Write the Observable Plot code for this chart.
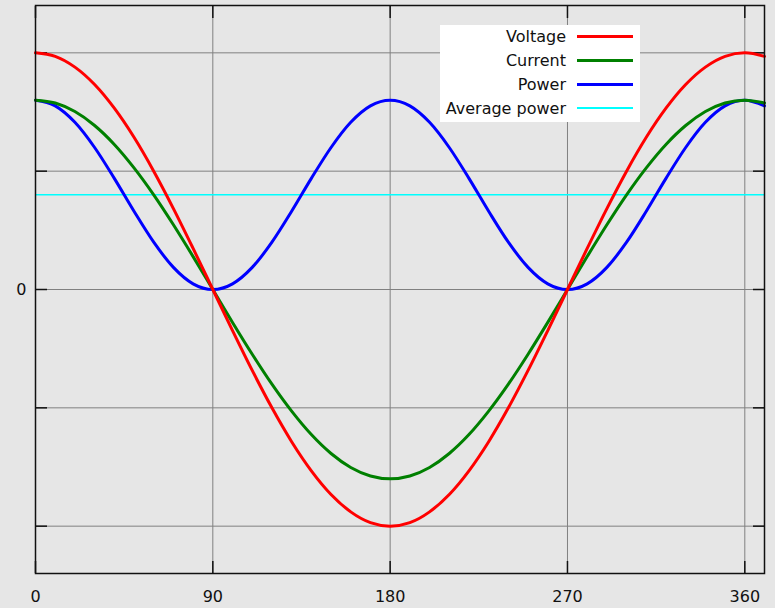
<!DOCTYPE html>
<html>
<head>
<meta charset="utf-8">
<script src="https://cdn.jsdelivr.net/npm/d3@7"></script>
<script src="https://cdn.jsdelivr.net/npm/@observablehq/plot@0.6"></script>
<style>
  html, body { margin: 0; padding: 0; background: #e6e6e6; }
  #wrap { position: relative; width: 775px; height: 608px; font-family: "DejaVu Sans", sans-serif; }
  #legend { position: absolute; left: 440px; top: 25px; width: 200px; height: 97px; background: #ffffff; }
  .row { position: absolute; left: 0; height: 24px; width: 200px; }
  .row span { position: absolute; right: 74px; top: 2px; font-size: 16px; line-height: 20px; color: #111; white-space: nowrap; }
  .row i { position: absolute; left: 137px; width: 56px; display: block; }
</style>
</head>
<body>
<div id="wrap"><div id="chart"></div><div id="legend"></div></div>
<script>
const angles = [0,10,20,30,40,50,60,70,80,90,100,110,120,130,140,150,160,170,180,190,200,210,220,230,240,250,260,270,280,290,300,310,320,330,340,350,360,370];
const voltage = [2.000,1.970,1.879,1.732,1.532,1.286,1.000,0.684,0.347,0,
  -0.347,-0.684,-1.000,-1.286,-1.532,-1.732,-1.879,-1.970,-2.000,
  -1.970,-1.879,-1.732,-1.532,-1.286,-1.000,-0.684,-0.347,0,
  0.347,0.684,1.000,1.286,1.532,1.732,1.879,1.970,2.000,1.970];
const current = [1.600,1.576,1.504,1.386,1.226,1.028,0.800,0.547,0.278,0,
  -0.278,-0.547,-0.800,-1.028,-1.226,-1.386,-1.504,-1.576,-1.600,
  -1.576,-1.504,-1.386,-1.226,-1.028,-0.800,-0.547,-0.278,0,
  0.278,0.547,0.800,1.028,1.226,1.386,1.504,1.576,1.600,1.576];
const power = [1.600,1.552,1.413,1.200,0.939,0.661,0.400,0.187,0.048,0,
  0.048,0.187,0.400,0.661,0.939,1.200,1.413,1.552,1.600,
  1.552,1.413,1.200,0.939,0.661,0.400,0.187,0.048,0,
  0.048,0.187,0.400,0.661,0.939,1.200,1.413,1.552,1.600,1.552];
const averagePower = 0.8;
const xTicks = [0, 90, 180, 270, 360];
const yGrid = [-2, -1, 0, 1, 2];
const yLabels = [0];
const seriesNames = ["Voltage", "Current", "Power", "Average power"];
const seriesColors = ["#ff0000", "#008000", "#0000ff", "#00ffff"];
const seriesWidths = [3, 3, 3, 2];

const table = (vals) => angles.map((a, i) => ({x: a, y: vals[i]}));

const chart = Plot.plot({
  width: 775,
  height: 608,
  marginLeft: 35,
  marginRight: 11,
  marginTop: 5,
  marginBottom: 35,
  style: {background: "transparent", fontFamily: "DejaVu Sans, sans-serif", fontSize: "16px", color: "#111"},
  x: {domain: [0, 370]},
  y: {domain: [-2.4, 2.4]},
  marks: [
    Plot.ruleX(xTicks, {stroke: "#808080", strokeWidth: 1}),
    Plot.ruleY(yGrid, {stroke: "#808080", strokeWidth: 1}),
    Plot.axisX({ticks: xTicks, anchor: "bottom", tickSize: 0, tickPadding: 17, label: null, fontSize: 16, tickFormat: d => String(d)}),
    Plot.axisX({ticks: xTicks, anchor: "bottom", tickSize: -12, text: null, label: null, stroke: "#111", strokeWidth: 1.5}),
    Plot.axisX({ticks: xTicks, anchor: "top", tickSize: -12, text: null, label: null, stroke: "#111", strokeWidth: 1.5}),
    Plot.axisY({ticks: yLabels, anchor: "left", tickSize: 0, tickPadding: 9, label: null, fontSize: 16, tickFormat: d => String(d)}),
    Plot.axisY({ticks: yGrid, anchor: "left", tickSize: -12, text: null, label: null, stroke: "#111", strokeWidth: 1.5}),
    Plot.axisY({ticks: yGrid, anchor: "right", tickSize: -12, text: null, label: null, stroke: "#111", strokeWidth: 1.5}),
    Plot.ruleY([averagePower], {stroke: seriesColors[3], strokeWidth: 1.5}),
    Plot.line(table(power), {x: "x", y: "y", stroke: seriesColors[2], strokeWidth: seriesWidths[2], curve: "monotone-x"}),
    Plot.line(table(current), {x: "x", y: "y", stroke: seriesColors[1], strokeWidth: seriesWidths[1], curve: "monotone-x"}),
    Plot.line(table(voltage), {x: "x", y: "y", stroke: seriesColors[0], strokeWidth: seriesWidths[0], curve: "monotone-x"}),
    Plot.frame({stroke: "#111", strokeWidth: 1.5})
  ]
});
document.getElementById("chart").appendChild(chart);

const legend = document.getElementById("legend");
seriesNames.forEach((name, i) => {
  const row = document.createElement("div");
  row.className = "row";
  row.style.top = (i * 24) + "px";
  const s = document.createElement("span");
  s.textContent = name;
  const l = document.createElement("i");
  l.style.height = seriesWidths[i] + "px";
  l.style.background = seriesColors[i];
  l.style.top = (11 - seriesWidths[i] / 2) + "px";
  row.appendChild(s);
  row.appendChild(l);
  legend.appendChild(row);
});
</script>
</body>
</html>
